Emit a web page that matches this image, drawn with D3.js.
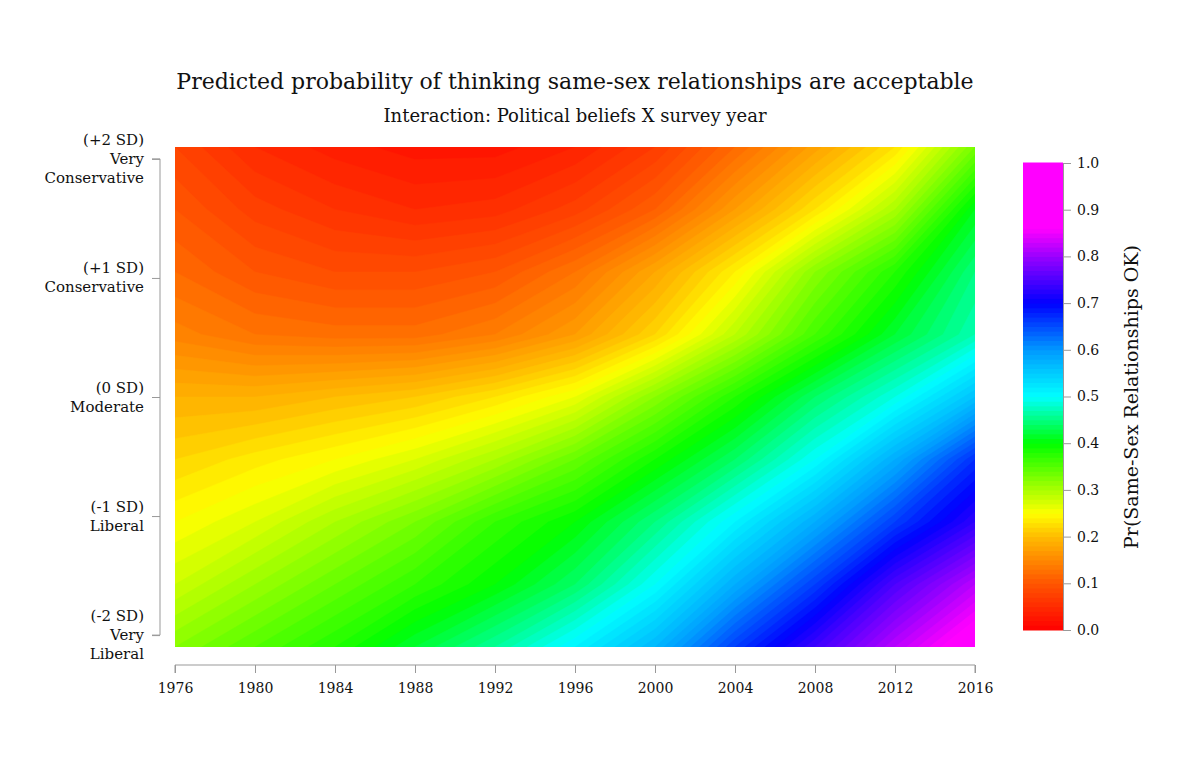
<!DOCTYPE html>
<html><head><meta charset="utf-8">
<script src="https://cdn.jsdelivr.net/npm/d3@7"></script>
<style>body{margin:0;background:#fff;} text{font-family:"DejaVu Serif",serif;fill:#111;}</style>
</head><body>
<svg id="chart" width="1200" height="766"></svg>
<script>
var years = [1976, 1980, 1984, 1988, 1992, 1996, 2000, 2004, 2008, 2012, 2016];
var sdLevels = [2.1, 1.5, 1, 0.5, 0, -0.5, -1, -1.5, -2.1];
// predicted probability, one row per sd level (top to bottom), one column per year
var probRows = [
  [.08,.05,.035,.025,.025,.04,.07,.12,.175,.23,.33],
  [.10,.075,.06,.05,.055,.075,.11,.17,.23,.30,.41],
  [.12,.10,.09,.09,.10,.13,.18,.24,.32,.38,.45],
  [.145,.13,.125,.125,.14,.17,.22,.29,.36,.42,.47],
  [.19,.19,.20,.21,.23,.26,.32,.38,.44,.49,.56],
  [.22,.235,.25,.27,.30,.34,.39,.44,.50,.58,.67],
  [.25,.27,.30,.33,.37,.40,.45,.51,.58,.66,.73],
  [.28,.31,.34,.37,.40,.44,.50,.58,.66,.75,.82],
  [.32,.35,.38,.42,.46,.51,.57,.66,.74,.82,.89]
];
var yTicks = [2, 1, 0, -1, -2];
var yTickLabels = [["(+2 SD)","Very","Conservative"],["(+1 SD)","Conservative"],["(0 SD)","Moderate"],["(-1 SD)","Liberal"],["(-2 SD)","Very","Liberal"]];
var xTicks = d3.range(1976, 2017, 4);
var barTicks = d3.range(0, 1.01, 0.1);

var svg = d3.select("#chart");
var x = d3.scaleLinear().domain([1976, 2016]).range([175, 975]);
var y = d3.scaleLinear().domain([-2.1, 2.1]).range([647, 147]);
var color = d3.scaleLinear()
    .domain([0, 0.1, 0.15, 0.2, 0.25, 0.4, 0.5, 0.6, 0.7, 0.8, 0.86, 1])
    .range(["#ff0000","#ff5500","#ff8800","#ffbb00","#ffff00","#00ff00","#00ffff","#0099ff","#0000ff","#9900ff","#ff00ff","#ff00ff"])
    .clamp(true);

svg.append("text").attr("x", 575).attr("y", 89).attr("text-anchor", "middle")
    .style("font-size", "22px").text("Predicted probability of thinking same-sex relationships are acceptable");
svg.append("text").attr("x", 575).attr("y", 122).attr("text-anchor", "middle")
    .style("font-size", "18px").text("Interaction: Political beliefs X survey year");

// heatmap via contours of the grid
var nx = years.length, ny = sdLevels.length;
var values = [];
probRows.forEach(function(r) { r.forEach(function(v) { values.push(v); }); });
var gx = d3.scaleLinear().domain([0.5, nx - 0.5]).range([x(years[0]), x(years[nx - 1])]);
var gy = d3.scaleLinear().domain([0.5, ny - 0.5]).range([y(sdLevels[0]), y(sdLevels[ny - 1])]);
var thresholds = d3.range(0, 1, 0.01);
var contours = d3.contours().size([nx, ny]).smooth(true).thresholds(thresholds)(values);
var path = d3.geoPath(d3.geoTransform({ point: function(px, py) {
  this.stream.point(gx(px), gy(py));
}}));
svg.append("clipPath").attr("id", "clip").append("rect")
    .attr("x", 175).attr("y", 147).attr("width", 800).attr("height", 500);
svg.append("g").attr("clip-path", "url(#clip)")
  .selectAll("path").data(contours).enter().append("path")
    .attr("d", path)
    .attr("fill", function(d) { return color(d.value + 0.005); })
    .attr("stroke", function(d) { return color(d.value + 0.005); })
    .attr("stroke-width", 0.5);

// y axis
var ya = svg.append("g").attr("transform", "translate(160,0)")
    .call(d3.axisLeft(y).tickValues(yTicks).tickSize(8).tickFormat(""));
ya.select(".domain").attr("d", "M-8," + y(2) + "H0V" + y(-2) + "H-8");
ya.selectAll("path, line").attr("stroke", "#999");
yTicks.forEach(function(t, i) {
  var lines = yTickLabels[i];
  var first = lines.length === 3 ? -1 : -0.5;
  var txt = svg.append("text").attr("text-anchor", "end").style("font-size", "15px");
  lines.forEach(function(l, j) {
    txt.append("tspan").attr("x", 144).attr("y", y(t) + 5 + (first + j) * 19).text(l);
  });
});

// x axis
var xa = svg.append("g").attr("transform", "translate(0,665)")
    .call(d3.axisBottom(x).tickValues(xTicks).tickSize(8).tickSizeOuter(0).tickFormat(d3.format("d")));
xa.selectAll("path, line").attr("stroke", "#999");
xa.select(".domain").attr("d", "M175,8V0H975V8");
xa.selectAll("text").attr("y", 18).style("font-size", "14px").style("font-family", "DejaVu Serif").attr("fill", "#111");

// colour bar
var cb = d3.scaleLinear().domain([0, 1]).range([630, 163]);
svg.append("g").selectAll("rect").data(d3.range(0, 1, 0.01)).enter().append("rect")
    .attr("x", 1023).attr("width", 40)
    .attr("y", function(d) { return cb(d + 0.01) - 0.5; })
    .attr("height", function(d) { return cb(d) - cb(d + 0.01) + 1; })
    .attr("fill", function(d) { return color(d + 0.005); });
var ca = svg.append("g").attr("transform", "translate(1063,0)")
    .call(d3.axisRight(cb).tickValues(barTicks).tickSize(8).tickSizeOuter(0).tickFormat(d3.format(".1f")));
ca.selectAll("path, line").attr("stroke", "#999");
ca.selectAll("text").attr("x", 14).style("font-size", "14px").style("font-family", "DejaVu Serif").attr("fill", "#111");
svg.append("text").attr("transform", "translate(1138,397) rotate(-90)").attr("text-anchor", "middle")
    .style("font-size", "19px").text("Pr(Same-Sex Relationships OK)");
</script>
</body></html>
